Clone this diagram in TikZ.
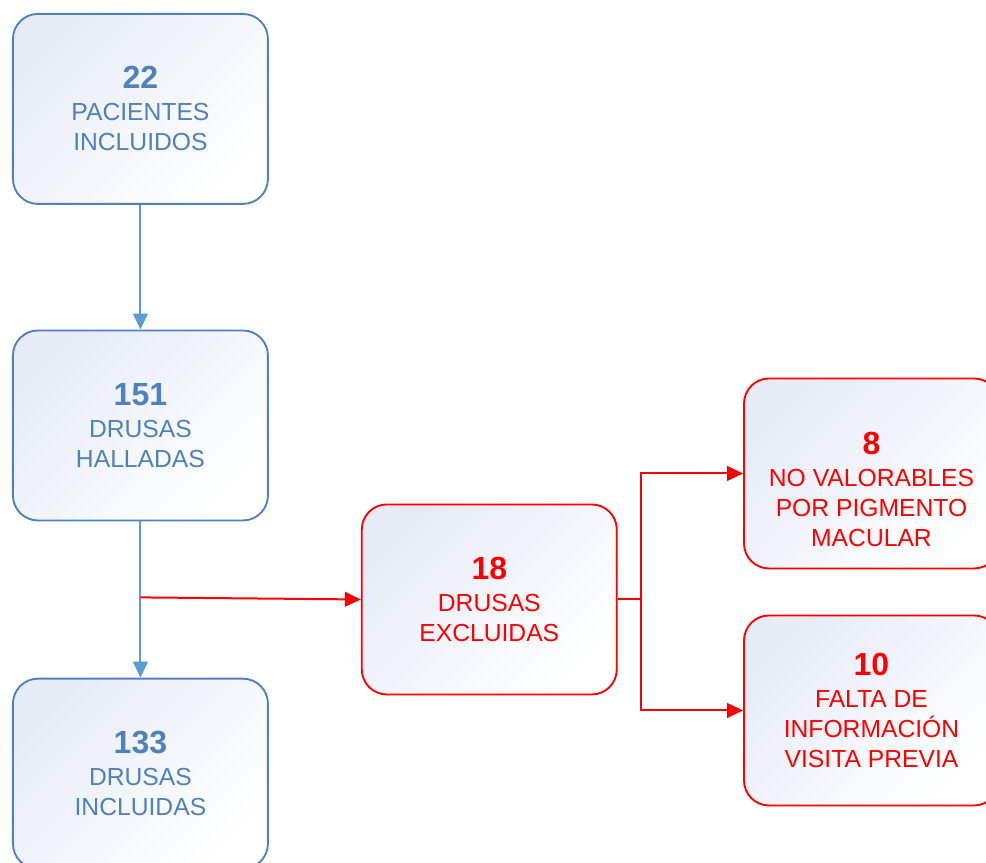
\documentclass[tikz,border=0pt]{standalone}
\usepackage{fontspec}
\setmainfont{Liberation Sans}
\usetikzlibrary{arrows.meta,positioning,calc}
\definecolor{mainblue}{RGB}{79,129,189}
\definecolor{lineblue}{RGB}{91,155,213}
\definecolor{mainred}{RGB}{255,0,0}
\definecolor{soft}{RGB}{230,235,246}
\newcommand{\boxnum}[1]{{\fontsize{24}{24}\selectfont\bfseries #1}}

\begin{document}
\begin{tikzpicture}[>={Triangle[length=12pt,width=11pt]},
  box/.style={line width=1.4pt,rounded corners=18.75pt,top color=soft,bottom color=white,shading angle=45,minimum width=191.25pt,minimum height=142.5pt,align=center,font=\fontsize{18.5}{22.5}\selectfont},
  bluebox/.style={box,draw=mainblue,text=mainblue},
  redbox/.style={box,draw=mainred,text=mainred},
  blueline/.style={line width=1.5pt,lineblue},
  redline/.style={line width=1.5pt,mainred}]
\node[bluebox] (pac) {\boxnum{22}\\[1.5pt]PACIENTES\\INCLUIDOS};
\node[bluebox,below=93.5pt of pac] (hal) {\boxnum{151}\\[1.5pt]DRUSAS\\HALLADAS};
\node[bluebox,below=117.25pt of hal] (inc) {\boxnum{133}\\[1.5pt]DRUSAS\\INCLUIDAS};
\node[redbox,right=69pt of hal,yshift=-130.5pt] (exc) {\boxnum{18}\\[1.5pt]DRUSAS\\EXCLUIDAS};
\node[redbox,right=94pt of exc,yshift=94.5pt] (nov) {\boxnum{\rule{0pt}{41pt}8}\\[1.5pt]NO VALORABLES\\POR PIGMENTO\\MACULAR};
\node[redbox,right=94pt of exc,yshift=-83.25pt] (fal) {\boxnum{10}\\[1.5pt]FALTA DE\\INFORMACIÓN\\VISITA PREVIA};
\coordinate[below=57pt of hal.south] (tap);
\coordinate[right=17.25pt of exc.east] (split);
\draw[blueline,->] (pac) -- (hal);
\draw[blueline,->] (hal) -- (inc);
\draw[redline,->] (tap) -- (exc.west);
\draw[redline] (exc.east) -- (split);
\draw[redline,->] (split) |- (nov.west);
\draw[redline,->] (split) |- (fal.west);
\pgfresetboundingbox
\useasboundingbox ($(pac.north west)+(-9pt,9.75pt)$) rectangle ++(739.5pt,-647.25pt);
\end{tikzpicture}
\end{document}
